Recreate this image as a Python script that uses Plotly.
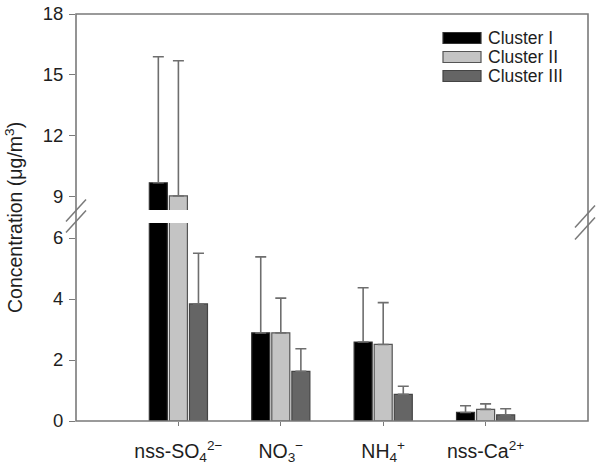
import plotly.graph_objects as go

# ---------------- data ----------------
categories = ["nss-SO<sub>4</sub><sup>2−</sup>", "NO<sub>3</sub><sup>−</sup>",
              "NH<sub>4</sub><sup>+</sup>", "nss-Ca<sup>2+</sup>"]
series_names = ["Cluster I", "Cluster II", "Cluster III"]
cluster1 = [9.70, 2.89, 2.59, 0.28]
cluster1_sd = [6.20, 2.49, 1.78, 0.22]
cluster2 = [9.05, 2.89, 2.51, 0.38]
cluster2_sd = [6.65, 1.14, 1.37, 0.18]
cluster3 = [3.84, 1.63, 0.875, 0.20]
cluster3_sd = [1.66, 0.74, 0.265, 0.20]
lower_ticks = [0, 2, 4, 6]
upper_ticks = [9, 12, 15, 18]

values = [cluster1, cluster2, cluster3]
sds = [cluster1_sd, cluster2_sd, cluster3_sd]

# ---------------- style ----------------
W, H = 603, 464
L, R, T, B = 76, 588, 14, 421
fills = ["#000000", "#c4c4c4", "#656565"]
edges = ["#333333", "#555555", "#444444"]
offsets = [-0.284, -0.088, 0.108]
barw = 0.176
axis_col = "#7a7a7a"
txt_col = "#1e1e1e"
font_fam = "Liberation Sans, Arial, Helvetica, sans-serif"

def px_x(p):
    return (p - L) / (R - L)

def px_y(p):
    return (B - p) / (B - T)

lower_top_px, upper_bot_px = 223, 210
lower_dom = [0, px_y(lower_top_px)]
upper_dom = [px_y(upper_bot_px), 1]
lower_range = [0, (B - lower_top_px) / 30.5]
upper_range = [18 - (upper_bot_px - T) / 20.33, 18]

xpos = list(range(len(categories)))

fig = go.Figure()
for ax in ["y", "y2"]:
    for i, name in enumerate(series_names):
        fig.add_trace(go.Bar(
            x=xpos, y=values[i], name=name, yaxis=ax,
            width=barw, offset=offsets[i],
            marker=dict(color=fills[i], line=dict(color=edges[i], width=1.2)),
            error_y=dict(type="data", array=sds[i], arrayminus=[0] * len(xpos),
                         symmetric=False, color="#6e6e6e", thickness=1.6, width=5.5),
            showlegend=False,
        ))

yaxis_common = dict(showgrid=False, zeroline=False, showline=False, automargin=False,
                    ticks="outside", ticklen=6, tickcolor=axis_col, tickwidth=1.4,
                    ticklabelstandoff=2,
                    tickfont=dict(size=18.5, color=txt_col, family=font_fam))

fig.update_layout(
    width=W, height=H,
    margin=dict(l=L, r=W - R, t=T, b=H - B, autoexpand=False),
    paper_bgcolor="white", plot_bgcolor="white",
    barmode="overlay",
    font=dict(family=font_fam, color=txt_col),
    xaxis=dict(range=[-1, len(categories)], tickvals=xpos, ticktext=categories,
               showgrid=False, zeroline=False, showline=False, automargin=False,
               ticks="outside", ticklen=4, tickcolor=axis_col, tickwidth=1.4,
               ticklabelstandoff=9,
               tickfont=dict(size=19.5, color=txt_col, family=font_fam)),
    yaxis=dict(domain=lower_dom, range=lower_range, tickvals=lower_ticks, **yaxis_common),
    yaxis2=dict(domain=upper_dom, range=upper_range, tickvals=upper_ticks, **yaxis_common),
)

shapes = []
# frame
shapes.append(dict(type="rect", xref="paper", yref="paper", x0=0, x1=1, y0=0, y1=1,
                   line=dict(color=axis_col, width=1.6), fillcolor="rgba(0,0,0,0)"))
# break marks
for (cx, cy) in [(76, 210.5), (76, 221.5), (585, 216.5), (585, 228.5)]:
    shapes.append(dict(type="line", xref="paper", yref="paper",
                       x0=px_x(cx - 10), y0=px_y(cy + 11),
                       x1=px_x(cx + 10), y1=px_y(cy - 11),
                       line=dict(color=axis_col, width=1.5)))
# legend swatches
leg_rows = [38, 57, 76]
for i, name in enumerate(series_names):
    yc = leg_rows[i]
    shapes.append(dict(type="rect", xref="paper", yref="paper",
                       x0=px_x(443), x1=px_x(481), y0=px_y(yc + 5.5), y1=px_y(yc - 5.5),
                       fillcolor=fills[i], line=dict(color=edges[i], width=1.2)))
fig.update_layout(shapes=shapes)

annotations = []
for i, name in enumerate(series_names):
    annotations.append(dict(xref="paper", yref="paper", x=px_x(486), y=px_y(leg_rows[i]),
                            text=name, showarrow=False, xanchor="left", yanchor="middle",
                            font=dict(size=17.5, color=txt_col, family=font_fam)))
annotations.append(dict(xref="paper", yref="paper", x=px_x(14), y=px_y(218),
                        text="Concentration (μg/m<sup>3</sup>)", textangle=-90,
                        showarrow=False, xanchor="center", yanchor="middle",
                        font=dict(size=19.5, color=txt_col, family=font_fam)))
fig.update_layout(annotations=annotations)

fig.write_html("out.html")
